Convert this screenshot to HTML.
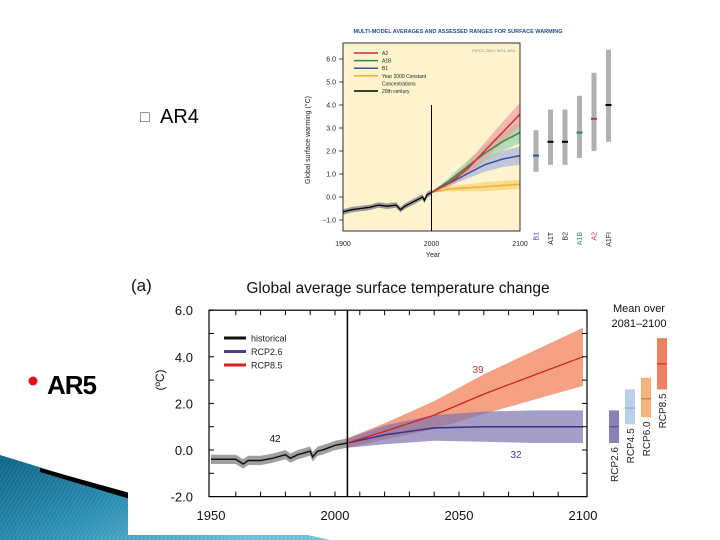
<!DOCTYPE html>
<html><head><meta charset="utf-8"><style>
html,body{margin:0;padding:0;background:#fff;}
svg{display:block;font-family:"Liberation Sans",sans-serif;}
</style></head><body>
<svg id="s" width="720" height="540" viewBox="0 0 720 540">
<defs>
<linearGradient id="bg1" x1="0" y1="0" x2="1" y2="0.6"><stop offset="0" stop-color="#0e6283"/><stop offset="0.5" stop-color="#2a8db2"/><stop offset="1" stop-color="#6cc0dc"/></linearGradient>
<clipPath id="wclip"><polygon points="0,455 130,495 330,540 0,540"/></clipPath>
</defs>
<g>
<polygon points="0,455 130,495 330,540 0,540" fill="url(#bg1)"/>
<g clip-path="url(#wclip)" stroke="#ffffff" stroke-opacity="0.1" stroke-width="1" id="stripes"></g>
<polygon points="40,468 130,493 130,499 40,472" fill="#000"/>
</g>
<text x="140" y="122" font-size="16" fill="#555">□</text>
<text x="160" y="123" font-size="20" fill="#000">AR4</text>
<circle cx="33" cy="381" r="4.5" fill="#e01020"/>
<text x="47" y="394" font-size="26" font-weight="bold" fill="#000" style="letter-spacing:-1px">AR5</text>

<g id="ar4"></g>
<g id="ar5"></g>
</svg>
<script>
// ---------- AR4 data ----------
const ar4Years=[1900,1910,1920,1930,1940,1950,1960,1965,1970,1980,1985,1990,1992,1995,2000];
const ar4Hist=[-0.65,-0.55,-0.5,-0.45,-0.35,-0.4,-0.35,-0.55,-0.4,-0.2,-0.1,0.0,-0.15,0.1,0.2];
const projYears=[2000,2020,2040,2060,2080,2100];
const a2Mean=[0.2,0.6,1.2,2.0,2.8,3.6];
const a2Spread=[0,0.15,0.25,0.35,0.45,0.5];
const a1bMean=[0.2,0.7,1.3,1.9,2.4,2.8];
const a1bSpread=[0,0.15,0.25,0.35,0.4,0.45];
const b1Mean=[0.2,0.6,1.0,1.4,1.65,1.8];
const b1Spread=[0,0.12,0.2,0.3,0.35,0.4];
const constMean=[0.2,0.35,0.4,0.45,0.5,0.55];
const constSpread=[0,0.1,0.15,0.2,0.2,0.2];
const ar4Ticks=[-1,0,1,2,3,4,5,6];
const ar4XTicks=[1900,2000,2100];
const scen=["B1","A1T","B2","A1B","A2","A1FI"];
const scenLow=[1.1,1.4,1.4,1.7,2.0,2.4];
const scenHigh=[2.9,3.8,3.8,4.4,5.4,6.4];
const scenBest=[1.8,2.4,2.4,2.8,3.4,4.0];
const scenColor=["#3a4fa0","#000","#000","#2a8a4a","#d03030","#000"];

// ---------- AR5 data ----------
const ar5HistYears=[1950,1955,1960,1963,1965,1970,1975,1980,1982,1985,1990,1991,1993,1995,2000,2005];
const ar5Hist=[-0.4,-0.4,-0.4,-0.6,-0.45,-0.45,-0.35,-0.2,-0.35,-0.2,-0.05,-0.3,-0.05,0.0,0.2,0.3];
const ar5ProjYears=[2005,2020,2040,2060,2080,2100];
const rcp85=[0.3,0.8,1.5,2.4,3.2,4.0];
const rcp85Spread=[0.2,0.35,0.6,0.85,1.05,1.25];
const rcp26=[0.3,0.65,0.95,1.0,1.0,1.0];
const rcp26Spread=[0.2,0.4,0.55,0.65,0.7,0.7];
const ar5YTicks=[-2,0,2,4,6];
const ar5XTicks=[1950,2000,2050,2100];
const rcpNames=["RCP2.6","RCP4.5","RCP6.0","RCP8.5"];
const rcpLow=[0.3,1.1,1.4,2.6];
const rcpHigh=[1.7,2.6,3.1,4.8];
const rcpBest=[1.0,1.8,2.2,3.7];
const rcpFill=["#8a80b8","#bcd0ea","#f6b47c","#ef8060"];
const rcpLine=["#5a4f98","#90a8d8","#e07830","#c84020"];

const NS="http://www.w3.org/2000/svg";
function mk(parent,tag,attrs,name,text){const e=document.createElementNS(NS,tag);for(const k in attrs)e.setAttribute(k,attrs[k]);


if(text!==undefined)e.textContent=text;parent.appendChild(e);return e;}
function pathOf(xs,ys,X,Y){return xs.map((v,i)=>(i?'L':'M')+X(v).toFixed(1)+','+Y(ys[i]).toFixed(1)).join(' ');}
function bandOf(xs,m,s,X,Y){const up=xs.map((v,i)=>X(v).toFixed(1)+','+Y(m[i]+s[i]).toFixed(1));const lo=xs.map((v,i)=>X(v).toFixed(1)+','+Y(m[i]-s[i]).toFixed(1)).reverse();return 'M'+up.join(' L')+' L'+lo.join(' L')+'Z';}

(function(){const st=document.getElementById('stripes');for(let x=-100;x<340;x+=4){mk(st,'line',{x1:x,y1:540,x2:x+60,y2:440},'wedge-stripe');}})();

// ===== AR4 =====
(function(){
const g=document.getElementById('ar4');
const X=y=>343+(y-1900)*(520-343)/200;
const Y=v=>197-v*23;
mk(g,'rect',{x:343,y:43,width:177,height:188,fill:'#fdf3cc'},'ar4-plot-background');
mk(g,'text',{x:458,y:33,'font-size':5.5,'text-anchor':'middle',fill:'#2a4a90','font-weight':'bold'},'ar4-title','MULTI-MODEL AVERAGES AND ASSESSED RANGES FOR SURFACE WARMING');
const histBand=ar4Hist.map(()=>0.12);
mk(g,'path',{d:bandOf(ar4Years,ar4Hist,histBand,X,Y),fill:'#9a9a9a'},'ar4-hist-band');
const series=[[constMean,constSpread,'#f0b030','#f5d070','const'],[b1Mean,b1Spread,'#3a4fa0','#aab0e0','b1'],[a1bMean,a1bSpread,'#2a8a4a','#98d0a8','a1b'],[a2Mean,a2Spread,'#d03030','#f0a0a0','a2']];
series.forEach(s=>{mk(g,'path',{d:bandOf(projYears,s[0],s[1],X,Y),fill:s[3],'fill-opacity':0.7},'ar4-band-'+s[4]);});
series.forEach(s=>{mk(g,'path',{d:pathOf(projYears,s[0],X,Y),stroke:s[2],'stroke-width':1.5,fill:'none'},'ar4-line-'+s[4]);});
mk(g,'path',{d:pathOf(ar4Years,ar4Hist,X,Y),stroke:'#000','stroke-width':1.3,fill:'none'},'ar4-line-20th-century');
mk(g,'line',{x1:X(2000),x2:X(2000),y1:Y(4),y2:231,stroke:'#000','stroke-width':1},'ar4-2000-marker');
mk(g,'rect',{x:343,y:43,width:177,height:188,fill:'none',stroke:'#000','stroke-width':0.8},'ar4-plot-frame');
ar4Ticks.forEach(t=>{mk(g,'line',{x1:339,x2:343,y1:Y(t),y2:Y(t),stroke:'#000','stroke-width':0.7},'ar4-y-tick');
mk(g,'text',{x:336,y:Y(t)+2.5,'font-size':7,'text-anchor':'end',fill:'#222'},'ar4-y-tick-label',t.toFixed(1).replace('-','−'));});
ar4XTicks.forEach(t=>{mk(g,'text',{x:X(t),y:246,'font-size':7,'text-anchor':'middle',fill:'#222'},'ar4-x-tick-label',String(t));});
mk(g,'text',{x:433,y:257,'font-size':7,'text-anchor':'middle',fill:'#222'},'ar4-x-axis-title','Year');
mk(g,'text',{x:310,y:140,'font-size':7,'text-anchor':'middle',fill:'#222',transform:'rotate(-90 310 140)'},'ar4-y-axis-title','Global surface warming (°C)');
const leg=[['A2','#d03030'],['A1B','#2a8a4a'],['B1','#3a4fa0'],['Year 2000 Constant','#f0b030'],['Concentrations',null],['20th century','#000']];
leg.forEach((l,i)=>{const yy=53+i*7.6;if(l[1])mk(g,'line',{x1:354,x2:378,y1:yy,y2:yy,stroke:l[1],'stroke-width':1.5},'ar4-legend-swatch');
mk(g,'text',{x:382,y:yy+2,'font-size':5,fill:'#222'},'ar4-legend-entry',l[0]);});
mk(g,'text',{x:515,y:52,'font-size':4,'text-anchor':'end',fill:'#888'},'ar4-copyright','©IPCC 2007: WG1-AR4');
const BX=i=>536+i*14.5;
scen.forEach((n,i)=>{mk(g,'rect',{x:BX(i)-2.5,y:Y(scenHigh[i]),width:5,height:Y(scenLow[i])-Y(scenHigh[i]),fill:'#b0b0b0'},'ar4-range-bar-'+n.toLowerCase());
mk(g,'rect',{x:BX(i)-3,y:Y(scenBest[i])-1,width:6,height:2,fill:scenColor[i]},'ar4-best-estimate-'+n.toLowerCase());
mk(g,'text',{x:BX(i)+2.5,y:232,'font-size':7,fill:scenColor[i]==='#000'?'#222':scenColor[i],'text-anchor':'end',transform:`rotate(-90 ${BX(i)+2.5} 232)`},'ar4-scenario-label',n);});
})();

// ===== AR5 =====
(function(){
const g=document.getElementById('ar5');
mk(g,'rect',{x:128,y:265,width:552,height:270,fill:'#fff'},'ar5-image-background');
const X=y=>211+(y-1950)*(583-211)/150;
const Y=v=>450-v*23.3;
mk(g,'text',{x:131,y:291,'font-size':17,fill:'#111'},'ar5-panel-label','(a)');
mk(g,'text',{x:398,y:293,'font-size':15.5,'text-anchor':'middle',fill:'#111'},'ar5-title','Global average surface temperature change');
const hb=ar5Hist.map(()=>0.2);
mk(g,'path',{d:bandOf(ar5HistYears,ar5Hist,hb,X,Y),fill:'#a0a0a0'},'ar5-hist-band');
mk(g,'path',{d:bandOf(ar5ProjYears,rcp85,rcp85Spread,X,Y),fill:'#f2906e','fill-opacity':0.85},'ar5-rcp85-band');
mk(g,'path',{d:bandOf(ar5ProjYears,rcp26,rcp26Spread,X,Y),fill:'#7f74b0','fill-opacity':0.7},'ar5-rcp26-band');
mk(g,'path',{d:pathOf(ar5ProjYears,rcp26,X,Y),stroke:'#3a3080','stroke-width':1.5,fill:'none'},'ar5-rcp26-line');
mk(g,'path',{d:pathOf(ar5ProjYears,rcp85,X,Y),stroke:'#d02020','stroke-width':1.3,fill:'none'},'ar5-rcp85-line');
mk(g,'path',{d:pathOf(ar5HistYears,ar5Hist,X,Y),stroke:'#111','stroke-width':1.5,fill:'none'},'ar5-historical-line');
mk(g,'line',{x1:X(2005),x2:X(2005),y1:Y(6),y2:Y(-2),stroke:'#000','stroke-width':1.5},'ar5-2005-marker');
mk(g,'rect',{x:209,y:Y(6),width:378,height:Y(-2)-Y(6),fill:'none',stroke:'#000','stroke-width':1.2},'ar5-plot-frame');
ar5YTicks.forEach(t=>{mk(g,'text',{x:193,y:Y(t)+5,'font-size':13,'text-anchor':'end',fill:'#111'},'ar5-y-tick-label',t.toFixed(1));});
for(let v=-2;v<=6;v+=1){mk(g,'line',{x1:209,x2:214,y1:Y(v),y2:Y(v),stroke:'#000'},'ar5-y-tick');mk(g,'line',{x1:582,x2:587,y1:Y(v),y2:Y(v),stroke:'#000'},'ar5-y-tick-right');}
for(let yr=1960;yr<2100;yr+=10){mk(g,'line',{x1:X(yr),x2:X(yr),y1:Y(6),y2:Y(6)+5,stroke:'#000'},'ar5-x-tick-top');mk(g,'line',{x1:X(yr),x2:X(yr),y1:Y(-2),y2:Y(-2)-5,stroke:'#000'},'ar5-x-tick');}
ar5XTicks.forEach(t=>{mk(g,'text',{x:X(t),y:520,'font-size':13,'text-anchor':'middle',fill:'#111'},'ar5-x-tick-label',String(t));});
mk(g,'text',{x:164,y:380,'font-size':12,'text-anchor':'middle',fill:'#111',transform:'rotate(-90 164 380)'},'ar5-y-axis-title','(ºC)');
const leg=[['historical','#111'],['RCP2.6','#4a4090'],['RCP8.5','#d02020']];
leg.forEach((l,i)=>{const yy=338+i*13.5;mk(g,'line',{x1:224,x2:246,y1:yy,y2:yy,stroke:l[1],'stroke-width':3},'ar5-legend-swatch');
mk(g,'text',{x:251,y:yy+3.5,'font-size':9,fill:'#222'},'ar5-legend-entry',l[0]);});
mk(g,'text',{x:275,y:442,'font-size':10,'text-anchor':'middle',fill:'#111'},'ar5-hist-model-count','42');
mk(g,'text',{x:478,y:373,'font-size':10,'text-anchor':'middle',fill:'#c83030'},'ar5-rcp85-model-count','39');
mk(g,'text',{x:516,y:458,'font-size':10,'text-anchor':'middle',fill:'#4a4090'},'ar5-rcp26-model-count','32');
mk(g,'text',{x:639,y:312,'font-size':11,'text-anchor':'middle',fill:'#111'},'ar5-mean-title-line1','Mean over');
mk(g,'text',{x:639,y:327,'font-size':11,'text-anchor':'middle',fill:'#111'},'ar5-mean-title-line2','2081–2100');
const BX=i=>614+i*16;
rcpNames.forEach((n,i)=>{mk(g,'rect',{x:BX(i)-5,y:Y(rcpHigh[i]),width:10,height:Y(rcpLow[i])-Y(rcpHigh[i]),fill:rcpFill[i]},'ar5-range-bar-'+n.toLowerCase().replace('.',''));
mk(g,'line',{x1:BX(i)-5,x2:BX(i)+5,y1:Y(rcpBest[i]),y2:Y(rcpBest[i]),stroke:rcpLine[i],'stroke-width':1.3},'ar5-mean-marker');
const ly=Y(rcpLow[i])+4;mk(g,'text',{x:BX(i)+4,y:ly,'font-size':10,'text-anchor':'end',fill:'#222',transform:`rotate(-90 ${BX(i)+4} ${ly})`},'ar5-rcp-label',n);});
})();
</script>
</body></html>
